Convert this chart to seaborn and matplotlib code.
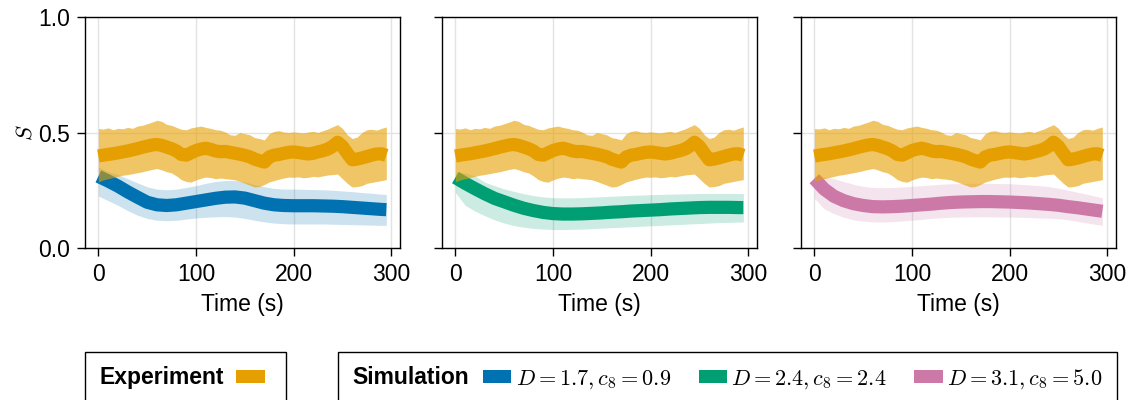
import numpy as np
import pandas as pd
import matplotlib
matplotlib.use("Agg")
import matplotlib.pyplot as plt
import seaborn as sns
from matplotlib.patches import Patch
from matplotlib.offsetbox import HPacker

# ---------------- data ----------------
exp_time = [0, 5, 10, 15, 20, 25, 30, 35, 40, 45, 50, 55, 60, 65, 70, 75, 80, 85, 90, 95,
            100, 105, 110, 115, 120, 125, 130, 135, 140, 145, 150, 155, 160, 165, 170, 175, 180, 185, 190, 195,
            200, 205, 210, 215, 220, 225, 230, 235, 240, 245, 250, 255, 260, 265, 270, 275, 280, 285, 290, 295]
exp_mean = [0.398, 0.402, 0.405, 0.408, 0.412, 0.416, 0.420, 0.425, 0.430, 0.436, 0.441, 0.446, 0.448, 0.444,
            0.437, 0.430, 0.420, 0.405, 0.402, 0.412, 0.422, 0.428, 0.432, 0.427, 0.420, 0.417, 0.418, 0.414,
            0.410, 0.406, 0.401, 0.395, 0.385, 0.378, 0.372, 0.394, 0.402, 0.405, 0.410, 0.414, 0.416, 0.413,
            0.410, 0.407, 0.410, 0.416, 0.421, 0.428, 0.440, 0.458, 0.440, 0.410, 0.382, 0.385, 0.390, 0.396,
            0.402, 0.407, 0.408, 0.401]
exp_hi = [0.517, 0.515, 0.520, 0.512, 0.518, 0.516, 0.522, 0.518, 0.528, 0.531, 0.538, 0.545, 0.553, 0.548,
          0.535, 0.531, 0.522, 0.514, 0.512, 0.520, 0.524, 0.528, 0.522, 0.518, 0.512, 0.510, 0.502, 0.490,
          0.488, 0.500, 0.495, 0.490, 0.478, 0.474, 0.468, 0.495, 0.505, 0.508, 0.502, 0.500, 0.503, 0.500,
          0.498, 0.502, 0.505, 0.500, 0.508, 0.515, 0.525, 0.534, 0.518, 0.490, 0.474, 0.480, 0.500, 0.512,
          0.514, 0.510, 0.518, 0.524]
exp_lo = [0.286, 0.295, 0.300, 0.305, 0.310, 0.315, 0.318, 0.322, 0.326, 0.330, 0.335, 0.340, 0.344, 0.338,
          0.330, 0.325, 0.312, 0.296, 0.288, 0.285, 0.295, 0.302, 0.307, 0.305, 0.300, 0.303, 0.300, 0.298,
          0.295, 0.288, 0.280, 0.272, 0.264, 0.266, 0.275, 0.286, 0.292, 0.298, 0.303, 0.307, 0.306, 0.308,
          0.304, 0.306, 0.310, 0.308, 0.312, 0.316, 0.318, 0.320, 0.300, 0.280, 0.264, 0.266, 0.270, 0.280,
          0.284, 0.288, 0.292, 0.296]

sim_time = [0, 10, 20, 30, 40, 50, 60, 70, 80, 90, 100, 110, 120, 130, 140, 150, 160, 170, 180, 190,
            200, 210, 220, 230, 240, 250, 260, 270, 280, 290, 295]

sim_labels = [r"$D = 1.7, c_8 = 0.9$", r"$D = 2.4, c_8 = 2.4$", r"$D = 3.1, c_8 = 5.0$"]

sim1_mean = [0.310, 0.290, 0.268, 0.243, 0.220, 0.198, 0.187, 0.184, 0.187, 0.194, 0.201, 0.208, 0.215, 0.220,
             0.221, 0.216, 0.205, 0.194, 0.187, 0.184, 0.183, 0.183, 0.183, 0.182, 0.181, 0.179, 0.176, 0.173,
             0.170, 0.167, 0.166]
sim1_hi = [0.350, 0.330, 0.318, 0.300, 0.282, 0.265, 0.255, 0.252, 0.255, 0.262, 0.270, 0.280, 0.288, 0.292,
           0.292, 0.285, 0.275, 0.265, 0.258, 0.255, 0.255, 0.254, 0.253, 0.252, 0.250, 0.247, 0.244, 0.240,
           0.237, 0.233, 0.232]
sim1_lo = [0.225, 0.205, 0.185, 0.162, 0.142, 0.128, 0.120, 0.118, 0.120, 0.125, 0.130, 0.133, 0.135, 0.136,
           0.134, 0.128, 0.120, 0.113, 0.108, 0.105, 0.104, 0.104, 0.104, 0.104, 0.103, 0.102, 0.101, 0.100,
           0.099, 0.098, 0.098]

sim2_mean = [0.305, 0.280, 0.257, 0.235, 0.215, 0.200, 0.185, 0.172, 0.162, 0.154, 0.149, 0.147, 0.147, 0.148,
             0.150, 0.152, 0.155, 0.157, 0.160, 0.162, 0.164, 0.166, 0.169, 0.171, 0.173, 0.175, 0.176, 0.176,
             0.176, 0.175, 0.175]
sim2_hi = [0.330, 0.325, 0.312, 0.285, 0.270, 0.256, 0.245, 0.235, 0.227, 0.221, 0.218, 0.217, 0.217, 0.218,
           0.220, 0.222, 0.224, 0.226, 0.228, 0.229, 0.231, 0.232, 0.233, 0.234, 0.235, 0.236, 0.236, 0.236,
           0.236, 0.236, 0.236]
sim2_lo = [0.240, 0.185, 0.160, 0.140, 0.122, 0.108, 0.097, 0.090, 0.085, 0.082, 0.080, 0.080, 0.081, 0.082,
           0.084, 0.086, 0.088, 0.090, 0.092, 0.094, 0.096, 0.098, 0.100, 0.102, 0.104, 0.106, 0.108, 0.110,
           0.111, 0.112, 0.113]

sim3_mean = [0.300, 0.255, 0.224, 0.205, 0.192, 0.184, 0.179, 0.178, 0.179, 0.181, 0.184, 0.187, 0.190, 0.194,
             0.197, 0.199, 0.200, 0.201, 0.201, 0.200, 0.199, 0.197, 0.195, 0.192, 0.189, 0.185, 0.179, 0.174,
             0.168, 0.162, 0.159]
sim3_hi = [0.310, 0.308, 0.300, 0.288, 0.276, 0.267, 0.262, 0.261, 0.262, 0.264, 0.267, 0.270, 0.273, 0.276,
           0.278, 0.279, 0.280, 0.280, 0.280, 0.279, 0.278, 0.276, 0.273, 0.270, 0.266, 0.259, 0.250, 0.241,
           0.232, 0.222, 0.218]
sim3_lo = [0.215, 0.170, 0.149, 0.133, 0.122, 0.116, 0.113, 0.112, 0.114, 0.117, 0.120, 0.124, 0.128, 0.131,
           0.133, 0.134, 0.135, 0.135, 0.135, 0.134, 0.134, 0.133, 0.132, 0.130, 0.129, 0.127, 0.122, 0.115,
           0.108, 0.101, 0.098]

y_ticks = [0.0, 0.5, 1.0]
y_ticklabels = ["0.0", "0.5", "1.0"]
x_ticks = [0, 100, 200, 300]

# ---------------- style ----------------
sns.set_theme(style="ticks")
plt.rcParams['font.family'] = ['Liberation Sans', 'DejaVu Sans']
plt.rcParams['mathtext.fontset'] = 'cm'
for k in ["text.color", "axes.labelcolor", "xtick.color", "ytick.color", "axes.edgecolor"]:
    plt.rcParams[k] = "black"

EXP_COLOR = "#E69F00"
SIM_COLORS = ["#0072B2", "#009E73", "#CC79A7"]
FS = 16.5
LFS = 16

exp_df = pd.DataFrame({"time": exp_time, "mean": exp_mean, "lo": exp_lo, "hi": exp_hi})
sim_means = [sim1_mean, sim2_mean, sim3_mean]
sim_his = [sim1_hi, sim2_hi, sim3_hi]
sim_los = [sim1_lo, sim2_lo, sim3_lo]

fig = plt.figure(figsize=(11.3, 4), dpi=100)
W, H = 1130.0, 400.0
lefts = [85, 442, 801]
pw = 315
top_px, bot_px = 17, 248

axes = []
for i in range(3):
    ax = fig.add_axes([lefts[i] / W, 1 - bot_px / H, pw / W, (bot_px - top_px) / H])
    axes.append(ax)
    sdf = pd.DataFrame({"time": sim_time, "mean": sim_means[i], "lo": sim_los[i], "hi": sim_his[i]})
    c = SIM_COLORS[i]
    ax.fill_between(sdf["time"], sdf["lo"], sdf["hi"], color=c, alpha=0.2, lw=0, zorder=2)
    sns.lineplot(data=sdf, x="time", y="mean", color=c, lw=9.5, ax=ax, errorbar=None,
                 solid_capstyle="butt", zorder=3)
    ax.fill_between(exp_df["time"], exp_df["lo"], exp_df["hi"], color=EXP_COLOR, alpha=0.6, lw=0, zorder=4)
    sns.lineplot(data=exp_df, x="time", y="mean", color=EXP_COLOR, lw=9.5, ax=ax, errorbar=None,
                 solid_capstyle="butt", zorder=5)

    ax.set_xlim(-13.7, 309)
    ax.set_ylim(0, 1)
    ax.set_xticks(x_ticks)
    ax.set_yticks(y_ticks)
    if i == 0:
        ax.set_yticklabels(y_ticklabels)
        ax.set_ylabel("$S$", fontsize=FS, labelpad=1)
    else:
        ax.set_yticklabels([])
        ax.set_ylabel("")
    ax.set_xlabel("Time (s)", fontsize=FS, labelpad=5)
    ax.grid(True, color="#e3e3e3", lw=1)
    ax.set_axisbelow(True)
    ax.tick_params(axis="both", direction="out", length=6, width=1, pad=5, labelsize=FS,
                   color="black", labelcolor="black")
    for sp in ax.spines.values():
        sp.set_color("black")
        sp.set_linewidth(1)
        sp.set_visible(True)


def inline_title(leg, sep):
    old = leg._legend_box
    new = HPacker(pad=old.pad, sep=sep, align="baseline",
                  children=[leg._legend_title_box, leg._legend_handle_box])
    new.set_figure(leg.figure)
    new.axes = leg.axes
    new.set_offset(leg._findoffset)
    leg._legend_box = new


legend_kw = dict(loc="upper left", fontsize=LFS, frameon=True, fancybox=False, framealpha=1,
                 edgecolor="black", handlelength=1.27, handleheight=0.5, borderpad=0.65,
                 borderaxespad=0)

leg1 = fig.legend(handles=[Patch(facecolor=EXP_COLOR, edgecolor="none")], labels=[""],
                  bbox_to_anchor=(85 / W, 1 - 352 / H), handletextpad=0.3, **legend_kw)
leg1.set_title("Experiment", prop={"weight": "bold", "size": FS})
leg1.get_frame().set_linewidth(1)
inline_title(leg1, 9)

sim_handles = [Patch(facecolor=c, edgecolor="none") for c in SIM_COLORS]
leg2 = fig.legend(handles=sim_handles, labels=sim_labels, ncol=3,
                  bbox_to_anchor=(338 / W, 1 - 352 / H), handletextpad=0.2, columnspacing=1.25,
                  **legend_kw)
leg2.set_title("Simulation", prop={"weight": "bold", "size": FS})
leg2.get_frame().set_linewidth(1)
inline_title(leg2, 10)

fig.savefig("out.png", dpi=100)
